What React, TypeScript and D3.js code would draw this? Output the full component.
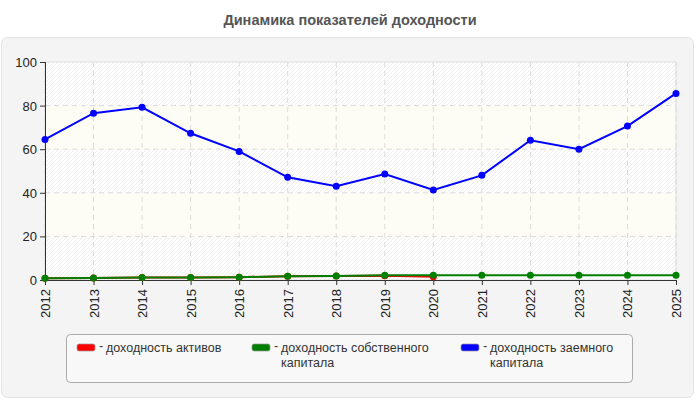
import * as d3 from "d3";

const years = ["2012", "2013", "2014", "2015", "2016", "2017", "2018", "2019", "2020", "2021", "2022", "2023", "2024", "2025"];
// доходность активов: mostly hidden under the green line, ends in 2020
const assets = [0.8, 0.9, 1.2, 1.2, 1.3, 1.7, 1.8, 2.0, 1.5];
const equity = [0.8, 0.9, 1.2, 1.2, 1.3, 1.7, 1.8, 2.2, 2.2, 2.2, 2.2, 2.2, 2.2, 2.2];
const borrowed = [64.5, 76.5, 79.2, 67.3, 59.0, 47.1, 43.0, 48.6, 41.3, 48.0, 64.1, 60.0, 70.6, 85.6];
const yTicks = [0, 20, 40, 60, 80, 100];

const series = [
    { name: "доходность активов", lines: ["доходность активов"], color: "#ff0000", values: assets },
    { name: "доходность собственного капитала", lines: ["доходность собственного", "капитала"], color: "#008000", values: equity },
    { name: "доходность заемного капитала", lines: ["доходность заемного", "капитала"], color: "#0000ff", values: borrowed }
];

const width = 700;
const height = 400;
const marginLeft = 45;
const marginRight = 24;
const marginTop = 62;
const plotBottom = 280;
const font = "'Liberation Sans', Arial, sans-serif";

export default function App() {
    const x = d3.scalePoint<string>().domain(years).range([marginLeft, width - marginRight]);
    const y = d3.scaleLinear().domain([0, 100]).range([plotBottom, marginTop]);

    const line = d3
        .line<number>()
        .x((_d, i) => x(years[i]) as number)
        .y((d) => y(d));

    const legendX = [77, 252, 461];

    return (
        <svg width={width} height={height} style={{ position: "absolute", left: 0, top: 0, background: "#fff" }} fontFamily={font}>
            <defs>
                <pattern id="hatch" width="4" height="4" patternUnits="userSpaceOnUse">
                    <path d="M-1,1 l2,-2 M0,4 l4,-4 M3,5 l2,-2" stroke="#eeeeee" strokeWidth="1" />
                </pattern>
            </defs>
            <text x={width / 2} y={25} textAnchor="middle" fontSize="14.5" fontWeight="bold" fill="#555">
                Динамика показателей доходности
            </text>
            <rect x={1.5} y={37.5} width={692} height={360} rx={6} fill="#f4f4f4" stroke="#e2e2e2" />

            {/* plot background */}
            <rect x={marginLeft} y={marginTop} width={width - marginRight - marginLeft} height={plotBottom - marginTop} fill="#fff" />
            {yTicks.slice(0, -1).map((t, i) => (
                <rect
                    key={t}
                    x={marginLeft}
                    y={y(t + 20)}
                    width={width - marginRight - marginLeft}
                    height={y(t) - y(t + 20)}
                    fill={i % 2 === 1 ? "#fdfdf5" : "url(#hatch)"}
                />
            ))}
            <rect x={marginLeft} y={marginTop} width={width - marginRight - marginLeft} height={plotBottom - marginTop} fill="none" stroke="#e0e0e0" />

            {/* grid */}
            <g stroke="#dcdcdc" strokeDasharray="5,4">
                {years.map((yr) => (
                    <line key={yr} x1={x(yr)} x2={x(yr)} y1={marginTop} y2={plotBottom} />
                ))}
                {yTicks.slice(1, -1).map((t) => (
                    <line key={t} x1={marginLeft} x2={width - marginRight} y1={y(t)} y2={y(t)} />
                ))}
            </g>

            {/* axes */}
            <g stroke="#333">
                <line x1={marginLeft + 0.5} x2={marginLeft + 0.5} y1={marginTop} y2={plotBottom} />
                <line x1={marginLeft} x2={width - marginRight} y1={plotBottom + 0.5} y2={plotBottom + 0.5} />
                {yTicks.map((t) => (
                    <line key={t} x1={marginLeft - 5} x2={marginLeft} y1={y(t) + 0.5} y2={y(t) + 0.5} />
                ))}
                {years.map((yr) => (
                    <line key={yr} x1={(x(yr) as number) + 0.5} x2={(x(yr) as number) + 0.5} y1={plotBottom} y2={plotBottom + 5} />
                ))}
            </g>
            <g fontSize="13" fill="#222">
                {yTicks.map((t) => (
                    <text key={t} x={marginLeft - 8} y={y(t) + 5} textAnchor="end">
                        {t}
                    </text>
                ))}
                {years.map((yr) => (
                    <text key={yr} transform={`translate(${(x(yr) as number) + 5},${plotBottom + 9}) rotate(-90)`} textAnchor="end">
                        {yr}
                    </text>
                ))}
            </g>

            {/* series */}
            {series.map((s) => (
                <g key={s.name}>
                    <path d={String(line(s.values))} fill="none" stroke={s.color} strokeWidth="2" />
                    {s.values.map((v, i) => (
                        <circle key={i} cx={x(years[i])} cy={y(v)} r="3.5" fill={s.color} />
                    ))}
                </g>
            ))}

            {/* legend */}
            <rect x={66.5} y={334.5} width={566} height={48} rx={4} fill="#f8f8f8" stroke="#aaa" />
            {series.map((s, i) => (
                <g key={s.name} fontSize="12.5" fill="#333">
                    <rect x={legendX[i]} y={344} width={18} height={7} rx={2} fill={s.color} stroke="#999" strokeWidth="0.7" />
                    <text x={legendX[i] + 22} y={350}>-</text>
                    {s.lines.map((l, j) => (
                        <text key={j} x={legendX[i] + 29} y={352 + j * 14.5}>
                            {l}
                        </text>
                    ))}
                </g>
            ))}
        </svg>
    );
}
